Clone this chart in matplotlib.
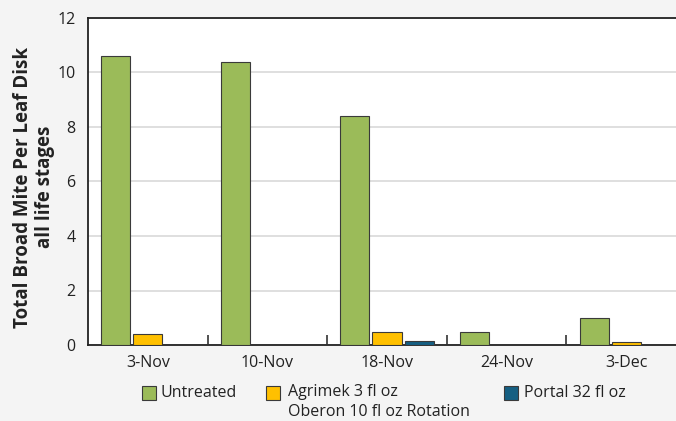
import matplotlib

matplotlib.use("Agg")
import matplotlib.pyplot as plt
from matplotlib.patches import Rectangle
import numpy as np

plt.rcParams["font.family"] = ["Open Sans", "DejaVu Sans"]

dates = ["3-Nov", "10-Nov", "18-Nov", "24-Nov", "3-Dec"]
untreated = [10.6, 10.4, 8.4, 0.47, 1.0]
agrimek = [0.4, 0.0, 0.48, 0.0, 0.1]
portal = [0.0, 0.0, 0.16, 0.0, 0.0]

series_names = ["Untreated", "Agrimek 3 fl oz\nOberon 10 fl oz Rotation", "Portal 32 fl oz"]
colors = ["#9bbb59", "#ffc000", "#155f82"]

fig = plt.figure(figsize=(6.76, 4.21), dpi=100, facecolor="#f4f4f4")
ax = fig.add_axes([88 / 676, 76 / 421, 598 / 676, 327 / 421])
ax.set_facecolor("white")

x = np.arange(len(dates))
step = 0.268
width = 0.243
for i, (vals, col) in enumerate(zip([untreated, agrimek, portal], colors)):
    ax.bar(x + (i - 1) * step, vals, width, color=col, edgecolor="#3a3a3a", linewidth=0.8, zorder=3)

ax.set_xlim(-0.5, 4.5)
ax.set_ylim(0, 12)
ax.set_yticks(range(0, 13, 2))
ax.yaxis.grid(True, color="#d9d9d9", linewidth=1.2, zorder=0)
ax.tick_params(axis="y", length=0, pad=9, labelsize=11.5, colors="#222222")

ax.set_xticks(x)
ax.set_xticklabels(dates)
ax.set_xticks(np.arange(0.5, 4.5, 1.0), minor=True)
ax.tick_params(axis="x", which="major", length=0, pad=7, labelsize=11.5, colors="#222222")
ax.tick_params(axis="x", which="minor", direction="in", length=7, width=1.2, color="#333333")

for side in ["left", "bottom", "top"]:
    ax.spines[side].set_color("#222222")
    ax.spines[side].set_linewidth(1.3)
ax.spines["right"].set_visible(False)

fig.text(34 / 676, 1 - 187 / 421, "Total Broad Mite Per Leaf Disk\nall life stages",
         rotation=90, ha="center", va="center", fontsize=13.5, fontweight="bold",
         color="#222222", linespacing=1.15)

# legend drawn by hand so the two-line label keeps its box beside the first line
legend_pos = [(142, 161), (266, 288), (504, 524)]
for (bx, tx), col, name in zip(legend_pos, colors, series_names):
    fig.patches.append(Rectangle((bx / 676, 1 - 400 / 421), 14 / 676, 14 / 421,
                                 transform=fig.transFigure, facecolor=col,
                                 edgecolor="#3a3a3a", linewidth=0.8))
    fig.text(tx / 676, 1 - 384 / 421 if "\n" in name else 1 - 393 / 421, name, ha="left",
             va="top" if "\n" in name else "center",
             fontsize=11.5, color="#222222", linespacing=1.35)

fig.savefig("out.png", dpi=100, facecolor=fig.get_facecolor())
